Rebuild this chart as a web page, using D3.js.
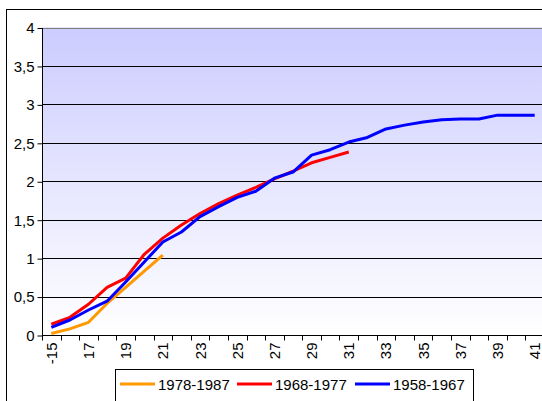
<!DOCTYPE html>
<html>
<head>
<meta charset="utf-8">
<script src="https://cdn.jsdelivr.net/npm/d3@7"></script>
<style>
  body { margin: 0; background: #fff; }
  text { font-family: "Liberation Sans", Arial, sans-serif; }
</style>
</head>
<body>
<svg id="chart" width="542" height="401"></svg>
<script>
// categories along x (first one is "-15", then 16..41)
var categories = ["-15","16","17","18","19","20","21","22","23","24","25","26","27","28",
                  "29","30","31","32","33","34","35","36","37","38","39","40","41"];
var yTicks = [0, 0.5, 1, 1.5, 2, 2.5, 3, 3.5, 4];

var s1978 = [0.02, 0.08, 0.165, 0.41, 0.62, 0.83, 1.04];
var s1968 = [0.14, 0.23, 0.40, 0.62, 0.74, 1.05, 1.26, 1.43, 1.58, 1.71, 1.82, 1.92,
             2.03, 2.13, 2.24, 2.31, 2.38];
var s1958 = [0.10, 0.195, 0.325, 0.44, 0.69, 0.95, 1.21, 1.34, 1.54, 1.67, 1.79, 1.87,
             2.04, 2.12, 2.34, 2.41, 2.51, 2.57, 2.68, 2.73, 2.77, 2.80, 2.81, 2.81,
             2.86, 2.86, 2.86];

var seriesNames = ["1978-1987", "1968-1977", "1958-1967"];
var seriesColors = ["#FF9900", "#FF0000", "#0000FF"];
var seriesData = [s1978, s1968, s1958];

var svg = d3.select("#chart");

// plot area edges (note: "top" is a reserved global in browsers)
var pLeft = 42, pTop = 27.5, pBottom = 335, pRight = 544;

var xScale = d3.scaleBand().domain(categories).range([pLeft, pRight]).padding(0);
var yScale = d3.scaleLinear().domain([0, 4]).range([pBottom, pTop]);

// outer frame
svg.append("rect")
   .attr("x", 6.5).attr("y", 9.5)
   .attr("width", 600).attr("height", 500)
   .attr("fill", "#fff").attr("stroke", "#000").attr("stroke-width", 1);

// plot background gradient
var grad = svg.append("defs").append("linearGradient")
   .attr("id", "bg").attr("x1", 0).attr("y1", 0).attr("x2", 0).attr("y2", 1);
grad.append("stop").attr("offset", "0%").attr("stop-color", "#ccccff");
grad.append("stop").attr("offset", "100%").attr("stop-color", "#ffffff");

svg.append("rect")
   .attr("x", pLeft).attr("y", pTop)
   .attr("width", pRight - pLeft).attr("height", pBottom - pTop)
   .attr("fill", "url(#bg)");

// gridlines
svg.selectAll("line.grid")
   .data(yTicks.slice(1))
   .enter().append("line")
   .attr("class", "grid")
   .attr("x1", pLeft).attr("x2", pRight)
   .attr("y1", function(d) { return Math.round(yScale(d)) + 0.5; })
   .attr("y2", function(d) { return Math.round(yScale(d)) + 0.5; })
   .attr("stroke", function(d) { return d === 4 ? "#808080" : "#000"; })
   .attr("stroke-width", 1);

// y axis
var yAxis = d3.axisLeft(yScale)
   .tickValues(yTicks)
   .tickSize(5)
   .tickPadding(3)
   .tickFormat(function(d) { return String(d).replace(".", ","); });

var gy = svg.append("g")
   .attr("transform", "translate(" + (pLeft + 0.5) + ",0.5)")
   .call(yAxis);
gy.select(".domain").attr("stroke", "#000").attr("d", "M0," + pTop + "V" + pBottom);
gy.selectAll(".tick line").attr("stroke", "#000");
gy.selectAll(".tick text")
   .attr("font-size", "15px").attr("fill", "#000")
   .attr("font-family", "Liberation Sans, Arial, sans-serif");

// x axis: ticks between categories, labels every other category
var gx = svg.append("g").attr("transform", "translate(0," + (pBottom + 0.5) + ")");
gx.append("line")
   .attr("x1", pLeft).attr("x2", pRight).attr("y1", 0).attr("y2", 0)
   .attr("stroke", "#000");
gx.selectAll("line.xt")
   .data(categories)
   .enter().append("line")
   .attr("class", "xt")
   .attr("x1", function(d) { return Math.round(xScale(d)) + 0.5; })
   .attr("x2", function(d) { return Math.round(xScale(d)) + 0.5; })
   .attr("y1", 0).attr("y2", 5)
   .attr("stroke", "#000");
gx.selectAll("text")
   .data(categories.filter(function(d, i) { return i % 2 === 0; }))
   .enter().append("text")
   .attr("transform", function(d) {
     return "translate(" + (xScale(d) + xScale.bandwidth() / 2 + 5.5) + ",7) rotate(-90)";
   })
   .attr("text-anchor", "end")
   .attr("font-size", "15px")
   .text(function(d) { return d; });

// lines
var line = d3.line()
   .x(function(d, i) { return xScale(categories[i]) + xScale.bandwidth() / 2; })
   .y(function(d) { return yScale(d); });

svg.selectAll("path.series")
   .data(seriesData)
   .enter().append("path")
   .attr("class", "series")
   .attr("d", line)
   .attr("fill", "none")
   .attr("stroke", function(d, i) { return seriesColors[i]; })
   .attr("stroke-width", 3)
   .attr("stroke-linejoin", "round");

// legend
var legend = svg.append("g");
legend.append("rect")
   .attr("x", 115.5).attr("y", 369.5)
   .attr("width", 358).attr("height", 60)
   .attr("fill", "#fff").attr("stroke", "#000");

var legendX = [120, 237, 355];
var items = legend.selectAll("g.item")
   .data(seriesNames)
   .enter().append("g")
   .attr("class", "item")
   .attr("transform", function(d, i) { return "translate(" + legendX[i] + ",384)"; });
items.append("line")
   .attr("x1", 0).attr("x2", 35).attr("y1", 0).attr("y2", 0)
   .attr("stroke", function(d, i) { return seriesColors[i]; })
   .attr("stroke-width", 3);
items.append("text")
   .attr("x", 38).attr("y", 5.5)
   .attr("font-size", "15px")
   .text(function(d) { return d; });
</script>
</body>
</html>
